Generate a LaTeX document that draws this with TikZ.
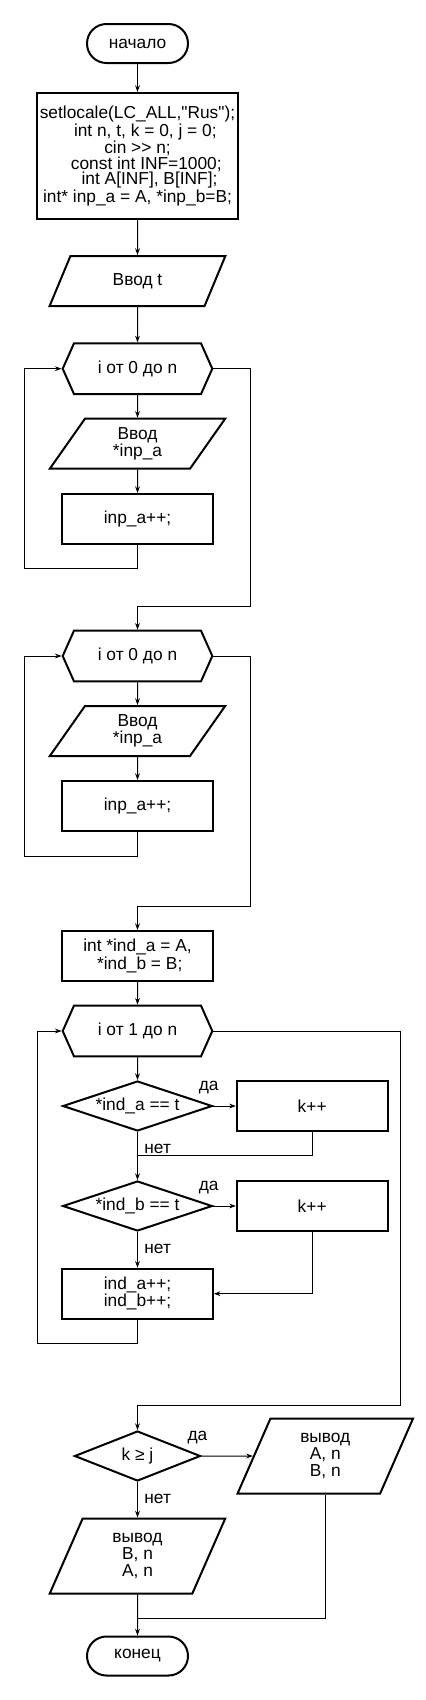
\documentclass[tikz,border=0pt]{standalone}
\usepackage{fontspec}
\setmainfont{Liberation Sans}[Ligatures=TeXOff]
\usetikzlibrary{arrows.meta,shapes.geometric,shapes.symbols}

\begin{document}
\begin{tikzpicture}[x=0.75pt,y=-0.75pt,line width=0.75pt,>={Stealth[length=5pt,width=3.6pt]},
  font=\fontsize{13}{13}\selectfont,
  box/.style={draw,line width=1.5pt,align=center,inner sep=0pt},
  term/.style={box,rounded corners=14.6pt,minimum width=75.75pt,minimum height=29.25pt},
  proc/.style={box,minimum width=113pt,minimum height=37.5pt},
  io/.style={box,trapezium,trapezium left angle=63.4,trapezium right angle=116.6,trapezium stretches,minimum width=132pt,minimum height=37.5pt},
  iotall/.style={io,trapezium left angle=72,trapezium right angle=108,minimum height=56.25pt},
  hex/.style={box,signal,signal to=east and west,signal pointer angle=132,minimum width=112.2pt,minimum height=38pt},
  cond/.style={box,diamond,aspect=3,minimum width=112.2pt,minimum height=37.5pt},
  lbl/.style={inner sep=0pt}]
\useasboundingbox[fill=white] (0,0) rectangle (425,1700);
% main column
\node[term] (start) at (137.5,43.5) {начало};
\node[box,minimum width=150.75pt,minimum height=94.5pt,font=\fontsize{13}{11.8}\selectfont] (init) at (137.5,156)
  {setlocale(LC\_ALL,"Rus");\\\hspace*{11.7pt}int n, t, k = 0, j = 0;\\cin >> n;\hspace*{3.3pt}\\
   \hspace*{13.2pt}const int INF=1000;\\\hspace*{18pt}int A[INF], B[INF];\\int* inp\_a = A, *inp\_b=B;};
\node[io] (tin) at (137.5,281) {Ввод t};
\node[hex] (loopA) at (137.5,368.7) {i от 0 до n};
\node[io] (inA) at (137.5,443.7) {Ввод\\{}*inp\_a};
\node[proc] (incA) at (137.5,519) {inp\_a++;};
\node[hex] (loopB) at (137.5,656) {i от 0 до n};
\node[io] (inB) at (137.5,731) {Ввод\\{}*inp\_a};
\node[proc] (incB) at (137.5,806) {inp\_a++;};
\node[proc] (ptr) at (137.5,956) {int *ind\_a = A,\\\hspace*{3.3pt}*ind\_b = B;};
\node[hex] (loopC) at (137.5,1031) {i от 1 до n};
\node[cond] (ifA) at (137.5,1106) {*ind\_a == t};
\node[proc] (kA) at (312.2,1106) {k++};
\node[cond] (ifB) at (137.5,1206) {*ind\_b == t};
\node[proc] (kB) at (312.2,1206) {k++};
\node[proc] (shiftptr) at (137.5,1293.7) {ind\_a++;\\ind\_b++;};
\node[cond,minimum width=94.5pt] (ifK) at (137.5,1456) {k ≥ j};
\node[iotall] (outR) at (325.3,1456) {вывод\\A, n\\B, n};
\node[iotall] (outL) at (137.5,1556) {вывод\\B, n\\A, n};
\node[term] (stop) at (137.5,1656) {конец};
% branch labels
\node[lbl] (yesA) at ([xshift=-3.4pt,yshift=13.5pt]ifA.east) {да};
\node[lbl,anchor=west] (noA) at ([xshift=4.8pt,yshift=-12.75pt]ifA.south) {нет};
\node[lbl] (yesB) at ([xshift=-3.4pt,yshift=13.5pt]ifB.east) {да};
\node[lbl,anchor=west] (noB) at ([xshift=4.8pt,yshift=-12.75pt]ifB.south) {нет};
\node[lbl] (yesK) at ([xshift=-3pt,yshift=13.5pt]ifK.east) {да};
\node[lbl,anchor=west] (noK) at ([xshift=4.8pt,yshift=-12.75pt]ifK.south) {нет};
% corner points
\coordinate (retA) at (24.3,568.3); \coordinate (exA) at (250,606);
\coordinate (retB) at (24.3,856); \coordinate (exB) at (250,906);
\coordinate (joinA) at (137.5,1155.7);
\coordinate (retC) at (37.7,1343.3); \coordinate (exC) at (400,1405.7);
\coordinate (joinK) at (137.5,1618.3);
% connectors
\draw[->] (start) -- (init); \draw[->] (init) -- (tin); \draw[->] (tin) -- (loopA);
\draw[->] (loopA) -- (inA); \draw[->] (inA) -- (incA);
\draw[->] (incA) |- (retA) |- (loopA.west);
\draw[->] (loopA.east) -| (exA) -| (loopB);
\draw[->] (loopB) -- (inB); \draw[->] (inB) -- (incB);
\draw[->] (incB) |- (retB) |- (loopB.west);
\draw[->] (loopB.east) -| (exB) -| (ptr);
\draw[->] (ptr) -- (loopC); \draw[->] (loopC) -- (ifA);
\draw[->] (ifA.east) -- (kA); \draw (kA) |- (joinA);
\draw[->] (ifA) -- (ifB);
\draw[->] (ifB.east) -- (kB); \draw[->] (kB) |- (shiftptr);
\draw[->] (ifB) -- (shiftptr);
\draw[->] (shiftptr) |- (retC) |- (loopC.west);
\draw[->] (loopC.east) -| (exC) -| (ifK);
\draw[->] (ifK.east) -- (outR); \draw[->] (ifK) -- (outL);
\draw (outR) |- (joinK); \draw[->] (outL) -- (stop);
\end{tikzpicture}
\end{document}
